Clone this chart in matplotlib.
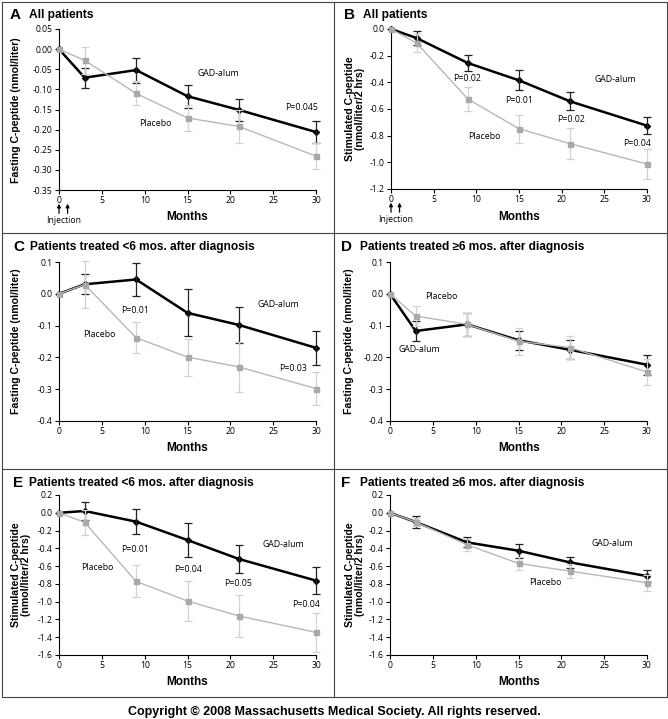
import matplotlib
matplotlib.use('Agg')
import matplotlib.pyplot as plt
from matplotlib.lines import Line2D

W, H = 668, 719

# meses de seguimento
months = [0, 3, 9, 15, 21, 30]
xticks = [0, 5, 10, 15, 20, 25, 30]

# A - jejum, todos os pacientes
a_gad = [0, -0.071, -0.052, -0.117, -0.151, -0.206]
a_gad_err = [0, 0.025, 0.031, 0.029, 0.028, 0.028]
a_plc = [0, -0.028, -0.110, -0.171, -0.192, -0.266]
a_plc_err = [0, 0.033, 0.030, 0.032, 0.041, 0.033]
a_yticks = [0.05, 0.0, -0.05, -0.10, -0.15, -0.20, -0.25, -0.30, -0.35]
a_ylabels = ['0.05', '0.00', '-0.05', '-0.10', '-0.15', '-0.20', '-0.25', '-0.30', '-0.35']

# B - estimulado, todos os pacientes
b_gad = [0, -0.068, -0.255, -0.385, -0.543, -0.725]
b_gad_err = [0, 0.055, 0.060, 0.075, 0.068, 0.065]
b_plc = [0, -0.105, -0.525, -0.748, -0.860, -1.013]
b_plc_err = [0, 0.070, 0.090, 0.105, 0.115, 0.110]
b_yticks = [0.0, -0.2, -0.4, -0.6, -0.8, -1.0, -1.2]
b_ylabels = ['0.0', '-0.2', '-0.4', '-0.6', '-0.8', '-1.0', '-1.2']

# C - jejum, <6 meses
c_gad = [0, 0.030, 0.045, -0.060, -0.098, -0.170]
c_gad_err = [0, 0.032, 0.052, 0.074, 0.057, 0.053]
c_plc = [0, 0.029, -0.138, -0.199, -0.230, -0.298]
c_plc_err = [0, 0.075, 0.048, 0.058, 0.080, 0.053]
c_yticks = [0.1, 0.0, -0.1, -0.2, -0.3, -0.4]
c_ylabels = ['0.1', '0.0', '-0.1', '-0.2', '-0.3', '-0.4']

# D - jejum, >=6 meses
d_gad = [0, -0.117, -0.096, -0.146, -0.176, -0.223]
d_gad_err = [0, 0.030, 0.036, 0.030, 0.030, 0.032]
d_plc = [0, -0.070, -0.096, -0.149, -0.169, -0.246]
d_plc_err = [0, 0.032, 0.036, 0.042, 0.036, 0.040]
d_yticks = [0.1, 0.0, -0.1, -0.2, -0.3, -0.4]
d_ylabels = ['0.1', '0.0', '-0.1', '-0.20', '-0.3', '-0.4']

# E - estimulado, <6 meses
e_gad = [0, 0.020, -0.100, -0.307, -0.520, -0.763]
e_gad_err = [0, 0.097, 0.142, 0.190, 0.152, 0.152]
e_plc = [0, -0.108, -0.772, -0.993, -1.161, -1.345]
e_plc_err = [0, 0.140, 0.180, 0.220, 0.240, 0.223]
ef_yticks = [0.2, 0.0, -0.2, -0.4, -0.6, -0.8, -1.0, -1.2, -1.4, -1.6]
ef_ylabels = ['0.2', '0.0', '-0.2', '-0.4', '-0.6', '-0.8', '-1.0', '-1.2', '-1.4', '-1.6']

# F - estimulado, >=6 meses
f_gad = [0, -0.104, -0.333, -0.427, -0.558, -0.712]
f_gad_err = [0, 0.068, 0.055, 0.080, 0.062, 0.065]
f_plc = [0, -0.104, -0.360, -0.570, -0.656, -0.787]
f_plc_err = [0, 0.050, 0.065, 0.072, 0.080, 0.090]

BOLD = 'Liberation Sans'
NOTE = 'Open Sans'
TICK = 6.2

fig = plt.figure(figsize=(W / 100, H / 100), dpi=100)


def px_axes(left, top, right, bottom):
    return fig.add_axes([left / W, 1 - bottom / H, (right - left) / W, (bottom - top) / H])


def draw_panel(ax, gad, gad_err, plc, plc_err, yticks, ylabels, notes):
    ax.plot(months, gad, color='black', lw=1.8, marker='D', ms=3, zorder=3, clip_on=False)
    ax.errorbar(months[1:], gad[1:], yerr=gad_err[1:], fmt='none', ecolor='#222222',
                elinewidth=0.9, capsize=2.6, capthick=0.9, zorder=3, clip_on=False)
    ax.errorbar(months[1:], plc[1:], yerr=plc_err[1:], fmt='none', ecolor='#d2d2d2',
                elinewidth=0.9, capsize=2.6, capthick=0.9, zorder=4, clip_on=False)
    ax.plot(months, plc, color='#b8b8b8', lw=1.0, marker='s', ms=3.6,
            mfc='#a9a9a9', mec='#a9a9a9', zorder=4, clip_on=False)
    ax.set_xlim(0, 30)
    ax.set_ylim(yticks[-1], yticks[0])
    ax.set_xticks(xticks)
    ax.set_xticklabels([str(v) for v in xticks], family=NOTE, fontsize=TICK)
    ax.set_yticks(yticks)
    ax.set_yticklabels(ylabels, family=NOTE, fontsize=TICK)
    ax.tick_params(length=3, width=0.8, pad=1.5)
    for s in ['top', 'right']:
        ax.spines[s].set_visible(False)
    for s in ['left', 'bottom']:
        ax.spines[s].set_linewidth(0.8)
    ax.patch.set_alpha(0)
    for txt, x, y in notes:
        ax.text(x, y, txt, ha='center', va='center', family=NOTE, fontsize=6.3)


def injection(ax):
    tr = ax.get_xaxis_transform()
    for x in [0, 1]:
        ax.annotate('', xy=(x, -0.085), xytext=(x, -0.145), xycoords=tr, textcoords=tr,
                    arrowprops=dict(arrowstyle='-|>', color='black', lw=0.9,
                                    mutation_scale=5, shrinkA=0, shrinkB=0),
                    annotation_clip=False)
    ax.text(0.5, -0.19, 'Injection', transform=tr, ha='center', va='center',
            family=NOTE, fontsize=6.2)


def label(letter, title, xl, xt, y):
    fig.text(xl / W, 1 - y / H, letter, family=BOLD, weight='bold', fontsize=11,
             ha='left', va='center')
    fig.text(xt / W, 1 - y / H, title, family=BOLD, weight='bold', fontsize=8.6,
             ha='left', va='center')


def ylab(x, y, txt):
    fig.text(x / W, 1 - y / H, txt, family=BOLD, weight='bold', fontsize=7.6,
             rotation=90, ha='center', va='center', linespacing=1.05)


def months_label(x, y):
    fig.text(x / W, 1 - y / H, 'Months', family=BOLD, weight='bold', fontsize=8.5,
             ha='center', va='center')


fast = 'Fasting C-peptide (nmol/liter)'
stim = 'Stimulated C-peptide\n(nmol/liter/2 hrs)'

# linha 1
axA = px_axes(59, 29, 316, 190)
draw_panel(axA, a_gad, a_gad_err, a_plc, a_plc_err, a_yticks, a_ylabels,
           [('GAD-alum', 18.6, -0.061), ('Placebo', 11.2, -0.185), ('P=0.045', 28.3, -0.146)])
injection(axA)
label('A', 'All patients', 10, 29, 15)
ylab(16, 110, fast)
months_label(187, 217)

axB = px_axes(391, 29, 647, 189)
draw_panel(axB, b_gad, b_gad_err, b_plc, b_plc_err, b_yticks, b_ylabels,
           [('P=0.02', 8.9, -0.37), ('P=0.01', 15, -0.535), ('P=0.02', 21.1, -0.675),
            ('P=0.04', 28.8, -0.855), ('GAD-alum', 26.3, -0.38), ('Placebo', 10.9, -0.805)])
injection(axB)
label('B', 'All patients', 344, 363, 15)
ylab(355, 109, stim)
months_label(519, 217)

# linha 2
axC = px_axes(59, 262, 316, 421)
draw_panel(axC, c_gad, c_gad_err, c_plc, c_plc_err, c_yticks, c_ylabels,
           [('GAD-alum', 25.6, -0.033), ('P=0.01', 8.85, -0.052), ('Placebo', 4.7, -0.127),
            ('P=0.03', 27.3, -0.235)])
label('C', 'Patients treated <6 mos. after diagnosis', 13, 30, 247)
ylab(16, 341, fast)
months_label(187, 448)

axD = px_axes(390, 262, 647, 421)
draw_panel(axD, d_gad, d_gad_err, d_plc, d_plc_err, d_yticks, d_ylabels,
           [('Placebo', 6.0, -0.008), ('GAD-alum', 3.4, -0.175)])
label('D', 'Patients treated \u22656 mos. after diagnosis', 341, 360, 247)
ylab(349, 341, fast)
months_label(519, 448)

# linha 3
axE = px_axes(59, 495, 316, 655)
draw_panel(axE, e_gad, e_gad_err, e_plc, e_plc_err, ef_yticks, ef_ylabels,
           [('P=0.01', 8.85, -0.41), ('Placebo', 4.5, -0.61), ('P=0.04', 15.1, -0.64),
            ('P=0.05', 20.9, -0.79), ('P=0.04', 28.8, -1.03), ('GAD-alum', 26.2, -0.36)])
label('E', 'Patients treated <6 mos. after diagnosis', 13, 29, 483)
ylab(21, 575, stim)
months_label(187, 682)

axF = px_axes(390, 495, 647, 655)
draw_panel(axF, f_gad, f_gad_err, f_plc, f_plc_err, ef_yticks, ef_ylabels,
           [('GAD-alum', 25.9, -0.351), ('Placebo', 18.1, -0.787)])
label('F', 'Patients treated \u22656 mos. after diagnosis', 341, 360, 483)
ylab(355, 575, stim)
months_label(519, 682)

# molduras
def hline(y, x0, x1):
    fig.add_artist(Line2D([x0 / W, x1 / W], [1 - y / H, 1 - y / H], color='#444444', lw=0.8))


def vline(x, y0, y1):
    fig.add_artist(Line2D([x / W, x / W], [1 - y0 / H, 1 - y1 / H], color='#444444', lw=0.8))


for y in [1.5, 233, 469, 697]:
    hline(y, 1.5, 667)
for x in [1.5, 334, 667]:
    vline(x, 1.5, 697)

fig.text(334 / W, 1 - 712 / H, 'Copyright \u00a9 2008 Massachusetts Medical Society. All rights reserved.',
         family=BOLD, weight='bold', fontsize=9, ha='center', va='center')

fig.savefig('out.png', dpi=100)
